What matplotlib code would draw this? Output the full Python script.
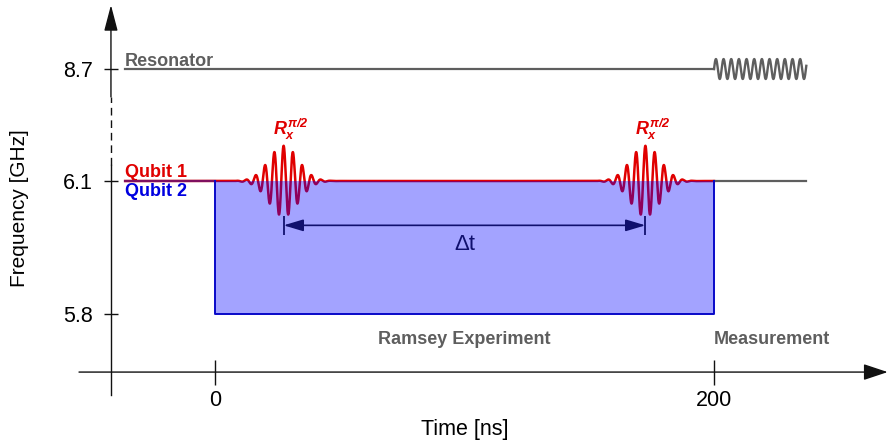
import numpy as np
import matplotlib
matplotlib.use('Agg')
import matplotlib.pyplot as plt

plt.rcParams['font.family'] = ['Liberation Sans', 'DejaVu Sans']
plt.rcParams['mathtext.fontset'] = 'custom'
plt.rcParams['mathtext.it'] = 'Liberation Sans:italic:bold'
plt.rcParams['mathtext.rm'] = 'Liberation Sans:italic:bold'

freq_ticks = [5.8, 6.1, 8.7]
freq_tick_labels = ['5.8', '6.1', '8.7']
time_ticks = [0, 200]
time_tick_labels = ['0', '200']

resonator_freq = 8.7
qubit_freq = 6.1
qubit2_low = 5.8
ramsey_start, ramsey_end = 0, 200
measure_end = 237
line_start = -36
pulse_centers = [27.5, 172.5]
delta_t_level = 6.0

# broken frequency axis: piecewise linear display units
break_freqs = [0, 5.8, 6.1, 8.7, 20]
break_units = [-19.333, 0, 1, 1.842, 5.5015]


def fwd(f):
    return np.interp(f, break_freqs, break_units)


def inv(u):
    return np.interp(u, break_units, break_freqs)


RED = '#e00000'
BLUE = '#0000e0'
NAVY = '#10106e'
GRAY = '#5e5e5e'

fig = plt.figure(figsize=(8.89, 4.45), dpi=100)
ax = fig.add_axes([0, 0, 1, 1])
ax.set_yscale('function', functions=(fwd, inv))
ax.set_xlim(-86.17, 270.14)
ax.set_ylim(inv(-0.985), inv(2.361))

x_axis_y = 5.669
y_axis_x = -41.7

# axes
for s in ax.spines.values():
    s.set_visible(False)
ax.spines['bottom'].set_position(('data', x_axis_y))
ax.spines['left'].set_position(('data', y_axis_x))
ax.annotate('', xy=(269.6, x_axis_y), xytext=(-54.5, x_axis_y),
            arrowprops=dict(arrowstyle='-|>,head_length=1.5,head_width=0.5',
                            color='#111111', lw=1.0, shrinkA=0, shrinkB=0))
ax.plot([y_axis_x, y_axis_x], [5.617, 6.47], color='#111111', lw=1.0)
ax.plot([y_axis_x, y_axis_x], [6.47, 8.052], color='#111111', lw=1.0,
        linestyle=(0, (5.5, 3.5)))
ax.annotate('', xy=(y_axis_x, 10.185), xytext=(y_axis_x, 8.052),
            arrowprops=dict(arrowstyle='-|>,head_length=1.6,head_width=0.42',
                            color='#111111', lw=1.0, shrinkA=0, shrinkB=0))

ax.set_xticks(time_ticks, time_tick_labels)
ax.set_yticks(freq_ticks, freq_tick_labels)
ax.minorticks_off()
ax.tick_params(axis='x', direction='inout', length=18, width=1.0,
               colors='#111111', labelsize=15.5, pad=4, labelcolor='black')
ax.tick_params(axis='y', direction='inout', length=10, width=1.0,
               colors='#111111', labelsize=15.5, pad=8, labelcolor='black')

# resonator line + measurement tone
t_res = np.linspace(ramsey_end, measure_end, 2000)
res_wave = inv(fwd(resonator_freq) + 0.075 * np.sin(2 * np.pi * (t_res - ramsey_end) / 3.07))
ax.plot([line_start, ramsey_end], [resonator_freq, resonator_freq], color=GRAY, lw=1.6, zorder=2)
ax.plot(t_res, res_wave, color=GRAY, lw=1.7, zorder=2)

# qubit 1 with two pi/2 pulses
t_q = np.linspace(line_start, ramsey_end, 6000)
pulse = np.zeros_like(t_q)
for c in pulse_centers:
    pulse += 0.265 * np.exp(-(t_q - c) ** 2 / (2 * 5.9 ** 2)) * np.cos(2 * np.pi * (t_q - c) / 3.73)
ax.plot(t_q, inv(fwd(qubit_freq) + pulse), color=RED, lw=1.8, zorder=2)
ax.plot([ramsey_end, measure_end], [qubit_freq, qubit_freq], color=GRAY, lw=1.6, zorder=2)

# qubit 2 detuned during Ramsey sequence
ax.fill_between([ramsey_start, ramsey_end], qubit2_low, qubit_freq,
                color='#0000ff', alpha=0.36, lw=0, zorder=3)
ax.plot([line_start, ramsey_start], [qubit_freq, qubit_freq],
        color='#2020c0', lw=1.6, alpha=0.5, zorder=4)
ax.plot([ramsey_start, ramsey_start, ramsey_end, ramsey_end],
        [qubit_freq, qubit2_low, qubit2_low, qubit_freq],
        color='#0808c8', lw=1.4, zorder=4)

# delta t arrow
ax.annotate('', xy=(pulse_centers[0], delta_t_level), xytext=(pulse_centers[1], delta_t_level),
            arrowprops=dict(arrowstyle='<|-|>,head_length=1.2,head_width=0.36',
                            color=NAVY, lw=1.2, shrinkA=0, shrinkB=0), zorder=5)
ax.vlines(pulse_centers, 5.978, 6.021, color=NAVY, lw=1.3, zorder=5)
ax.text(100, 5.956, '\u0394t', color=NAVY, fontsize=16, ha='center', va='center', zorder=5)

# labels
for c in pulse_centers:
    ax.text(c + 3, 7.307, r'$R_x^{\pi/2}$', color=RED, fontsize=13,
            ha='center', va='center')
ax.text(line_start, 8.770, 'Resonator', color=GRAY, fontsize=13, fontweight='bold', va='baseline')
ax.text(line_start, 6.193, 'Qubit 1', color=RED, fontsize=13, fontweight='bold', va='baseline')
ax.text(line_start, 6.066, 'Qubit 2', color=BLUE, fontsize=13, fontweight='bold', va='baseline')
ax.text(100, 5.7436, 'Ramsey Experiment', color=GRAY, fontsize=13, fontweight='bold',
        ha='center', va='center')
ax.text(ramsey_end, 5.7436, 'Measurement', color=GRAY, fontsize=13, fontweight='bold',
        ha='left', va='center')

fig.text(20 / 889, 1 - 208 / 445, 'Frequency [GHz]', rotation=90, fontsize=15,
         ha='center', va='center')
fig.text(465 / 889, 1 - 430 / 445, 'Time [ns]', fontsize=15.5, ha='center', va='center')

fig.savefig('out.png', dpi=100)
